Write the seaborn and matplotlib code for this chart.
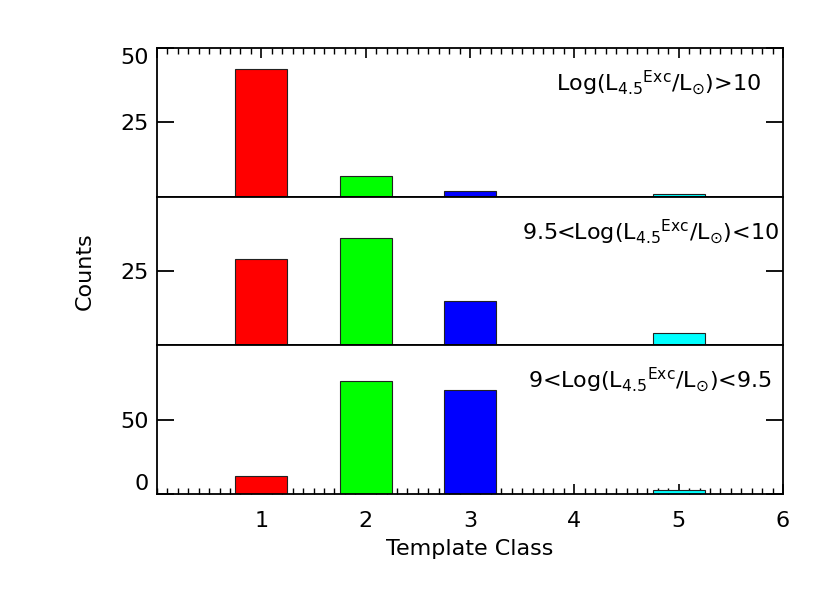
import matplotlib
matplotlib.use("Agg")
import matplotlib.pyplot as plt
from matplotlib.ticker import MultipleLocator, FixedLocator
import pandas as pd
import seaborn as sns

# counts per template class, one list per luminosity bin
classes = [1, 2, 3, 4, 5]
counts_high = [43, 7, 2, 0, 1]
counts_mid = [29, 36, 15, 0, 4]
counts_low = [12, 76, 70, 0, 3]
class_colors = {"1": "#ff0000", "2": "#00ff00", "3": "#0000ff", "4": "#ffff00", "5": "#00ffff"}

labels = [
    r"Log(L$_{4.5}$$^{\rm Exc}$/L$_{\odot}$)>10",
    r"9.5<Log(L$_{4.5}$$^{\rm Exc}$/L$_{\odot}$)<10",
    r"9<Log(L$_{4.5}$$^{\rm Exc}$/L$_{\odot}$)<9.5",
]
ylims = [(0, 50), (0, 50), (0, 100)]
yticks = [[25], [25], [50]]

sns.set_style("ticks")
plt.rcParams["font.family"] = ["DejaVu Sans"]
plt.rcParams["mathtext.fontset"] = "dejavusans"
for k in ["text.color", "axes.labelcolor", "xtick.color", "ytick.color", "axes.edgecolor"]:
    plt.rcParams[k] = "black"

W, H = 830, 593
fig = plt.figure(figsize=(W / 100, H / 100), dpi=100)
left, right = 157 / W, 783 / W
edges = [48, 197, 345, 494]

axes = []
for i, counts in enumerate([counts_high, counts_mid, counts_low]):
    y0 = (H - edges[i + 1]) / H
    h = (edges[i + 1] - edges[i]) / H
    ax = fig.add_axes([left, y0, right - left, h])
    df = pd.DataFrame({"cls": classes, "n": counts})
    df = df[df["n"] > 0]
    df["key"] = df["cls"].astype(str)
    sns.barplot(data=df, x="cls", y="n", hue="key", palette=class_colors,
                native_scale=True, width=0.5, legend=False, ax=ax,
                edgecolor="#222222", linewidth=0.8, saturation=1)
    ax.set_xlim(0, 6)
    ax.set_ylim(*ylims[i])
    ax.set_xlabel("")
    ax.set_ylabel("")
    for s in ax.spines.values():
        s.set_visible(True)
        s.set_linewidth(1.3)
        s.set_color("black")
    ax.yaxis.set_major_locator(FixedLocator(yticks[i]))
    ax.tick_params(axis="y", which="major", direction="in", length=12, width=1.3,
                   left=True, right=True, labelsize=16, pad=6)
    ax.xaxis.set_major_locator(MultipleLocator(1))
    ax.xaxis.set_minor_locator(MultipleLocator(0.1))
    ax.tick_params(axis="x", which="major", direction="in", length=7, width=1.2, labelsize=16, pad=12)
    ax.tick_params(axis="x", which="minor", direction="in", length=4, width=1.0)
    ax.tick_params(axis="x", which="both", top=False, bottom=False, labelbottom=False)
    ax.text(0.965 if i == 0 else 0.993 if i == 1 else 0.982, 1 - (83 - 48) / 149,
            labels[i], transform=ax.transAxes, ha="right", va="center", fontsize=16)
    axes.append(ax)

ax_top, ax_mid, ax_bot = axes
ax_top.tick_params(axis="x", which="both", top=True)
ax_bot.tick_params(axis="x", which="both", bottom=True, labelbottom=True)
ax_bot.set_xticks([1, 2, 3, 4, 5, 6])

# edge labels pulled inside like the original
ax_top.set_yticks([25, 50])
ax_top.set_yticklabels(["25", "50"])
ax_top.get_yticklabels()[1].set_va("top")
ax_bot.set_yticks([0, 50])
ax_bot.set_yticklabels(["0", "50"])
ax_bot.get_yticklabels()[0].set_va("bottom")

ax_bot.set_xlabel("Template Class", fontsize=16, labelpad=6)
fig.text(85 / W, 1 - 271 / H, "Counts", rotation=90, ha="center", va="center", fontsize=16)

fig.savefig("out.png", dpi=100, facecolor="white")
